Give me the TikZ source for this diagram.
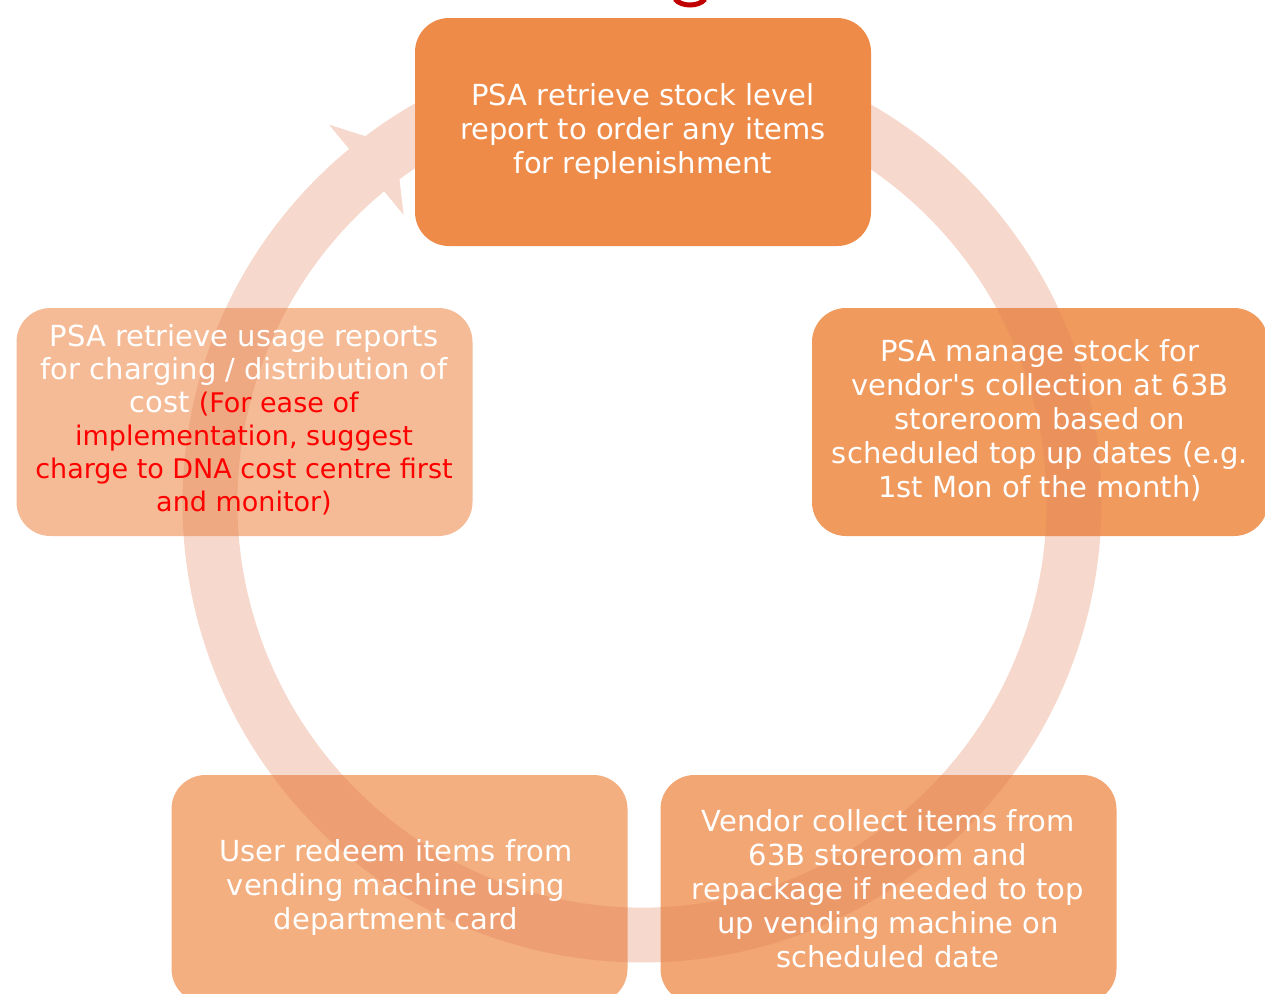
\documentclass[tikz,border=0pt]{standalone}
\usepackage{fontspec}
\setmainfont{DejaVu Sans}
\usetikzlibrary{calc}
\definecolor{cTop}{HTML}{EE8B48}
\definecolor{cRight}{HTML}{F09A5E}
\definecolor{cBR}{HTML}{F2A674}
\definecolor{cBL}{HTML}{F3AF80}
\definecolor{cLeft}{HTML}{F5BB96}
\definecolor{cRing}{RGB}{225,125,85}
\definecolor{cTitle}{HTML}{C00000}
\definecolor{cRed}{HTML}{FF0000}
\newcommand{\straightquote}{\XeTeXglyph\XeTeXcharglyph"0027\relax}
\begin{document}
\begin{tikzpicture}[x=0.5pt,y=0.5pt,
  box/.style={rectangle, rounded corners=17pt, minimum width=228pt, minimum height=114pt, inner sep=0pt, draw=none},
  txt/.style={text=white, align=center, font=\fontsize{14.5pt}{17pt}\selectfont, inner sep=0pt},
  ring/.style={fill=cRing, fill opacity=0.3}]
\useasboundingbox (0,0) rectangle (1265,-993);
\clip (0,0) rectangle (1265,-993);
% title fragment
\draw[cTitle, line width=2.5pt] (675,1) .. controls (681,-7) and (699,-7) .. (705,1);
% boxes
\node[box, fill=cRight] (bR) at (1040,-422) {};
\node[box, fill=cBR] (bBR) at (888.5,-889) {};
\node[box, fill=cBL] (bBL) at (399.5,-889) {};
\node[box, fill=cLeft] (bL) at (244.5,-422) {};
% ring
\coordinate (C) at (642,-503);
\fill[ring] ($(C)+(129.6:491)$) -- ($(C)+(129.6:459.5)$)
  arc[start angle=129.6, end angle=-290, radius=459.5]
  -- ($(C)+(-290:404.5)$)
  arc[start angle=-290, end angle=129.6, radius=404.5]
  -- ($(C)+(129.6:374)$) -- ($(C)+(124.6:434)$) -- cycle;
\node[box, fill=cTop] (bT) at (643,-132) {};
% texts
\node[txt] (tT) at (643,-131) {PSA retrieve stock level\\report to order any items\\for replenishment};
\node[txt] (tR) at (1040,-420) {PSA manage stock for\\vendor\straightquote s collection at 63B\\storeroom based on\\scheduled top up dates (e.g.\\1st Mon of the month)};
\node[txt] (tBR) at (888,-889) {Vendor collect items from\\63B storeroom and\\repackage if needed to top\\up vending machine on\\scheduled date};
\node[txt] (tBL) at (396,-887) {User redeem items from\\vending machine using\\department card};
\node[txt, font=\fontsize{14.5pt}{16.5pt}\selectfont] (tL) at (244,-420) {PSA retrieve usage reports\\for charging / distribution of\\cost {\fontsize{13.5pt}{16.5pt}\selectfont\textcolor{cRed}{(For ease of}}\\{\fontsize{13.5pt}{16pt}\selectfont\textcolor{cRed}{implementation, suggest}}\\{\fontsize{13.5pt}{16pt}\selectfont\textcolor{cRed}{charge to DNA cost centre first}}\\{\fontsize{13.5pt}{16pt}\selectfont\textcolor{cRed}{and monitor)}}};
\end{tikzpicture}
\end{document}
